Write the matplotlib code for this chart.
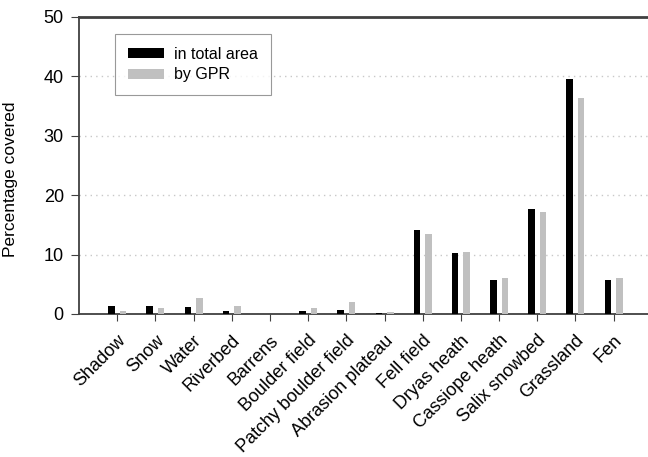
import matplotlib.pyplot as plt
import numpy as np

plt.rcParams['font.family'] = ['Liberation Sans', 'DejaVu Sans']

# Datos
categorias = ['Shadow', 'Snow', 'Water', 'Riverbed', 'Barrens', 'Boulder field',
              'Patchy boulder field', 'Abrasion plateau', 'Fell field', 'Dryas heath',
              'Cassiope heath', 'Salix snowbed', 'Grassland', 'Fen']
total_area = [1.3, 1.3, 1.2, 0.45, 0.0, 0.45, 0.75, 0.2, 14.2, 10.3, 5.8, 17.6, 39.6, 5.7]
por_gpr = [0.55, 1.0, 2.7, 1.3, 0.05, 0.95, 2.0, 0.4, 13.5, 10.5, 6.0, 17.2, 36.3, 6.0]

x = np.arange(len(categorias))

fig = plt.figure(figsize=(6.48, 4.57), dpi=100)
ax = fig.add_axes([0.122, 0.313, 0.878, 0.65])

ax.bar(x - 0.15, total_area, width=0.17, color='black', label='in total area', zorder=3)
ax.bar(x + 0.15, por_gpr, width=0.17, color='#c0c0c0', label='by GPR', zorder=3)

ax.set_xlim(-1.0, 13.9)
ax.set_ylim(0, 50)
ax.set_yticks([0, 10, 20, 30, 40, 50])
ax.tick_params(axis='y', labelsize=13, direction='out', length=6, color='#404040', pad=5)
ax.set_xticks(x)
ax.set_xticklabels(categorias, rotation=45, ha='right', rotation_mode='anchor', fontsize=13)
ax.tick_params(axis='x', direction='out', length=5, color='#404040', pad=8)

# Lineas de cuadricula punteadas
ax.yaxis.grid(True, linestyle=(0, (1, 3)), color='#c8c8c8', linewidth=1, zorder=0)
ax.set_ylabel('Percentage covered', fontsize=12.5)
ax.yaxis.set_label_coords(-0.107, 0.455)

ax.spines['right'].set_visible(False)
for s in ['left', 'bottom', 'top']:
    ax.spines[s].set_color('#404040')
    ax.spines[s].set_linewidth(1.3)
ax.spines['top'].set_linewidth(2)

leg = ax.legend(loc='upper left', bbox_to_anchor=(0.063, 0.943), borderaxespad=0,
                fontsize=11.5, fancybox=False, edgecolor='#808080',
                handlelength=2.3, handleheight=0.6, handletextpad=0.6,
                borderpad=0.8, labelspacing=0.35)
leg.get_frame().set_linewidth(0.8)

fig.savefig('out.png', dpi=100)
